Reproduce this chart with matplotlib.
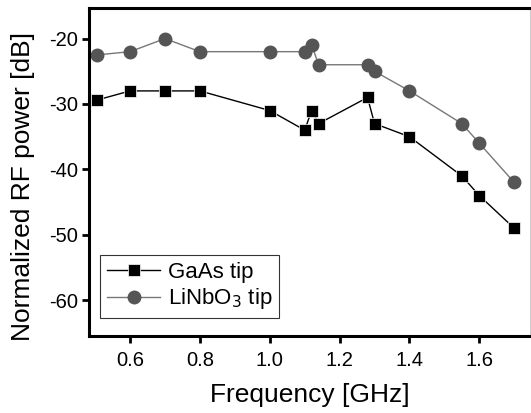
import matplotlib.pyplot as plt

plt.rcParams['font.family'] = ['Liberation Sans', 'DejaVu Sans']
plt.rcParams['axes.unicode_minus'] = False

# GaAs tip
gaas_f = [0.505, 0.6, 0.7, 0.8, 1.0, 1.1, 1.12, 1.14, 1.28, 1.3, 1.4, 1.55, 1.6, 1.7]
gaas_p = [-29.4, -28, -28, -28, -31, -34, -31, -33, -29, -33, -35, -41, -44, -49]

# LiNbO3 tip
linbo_f = [0.505, 0.6, 0.7, 0.8, 1.0, 1.1, 1.12, 1.14, 1.28, 1.3, 1.4, 1.55, 1.6, 1.7]
linbo_p = [-22.5, -22, -20, -22, -22, -22, -21, -24, -24, -25, -28, -33, -36, -42]

fig = plt.figure(figsize=(5.31, 4.13), dpi=100)
ax = fig.add_axes([0.168, 0.186, 0.83, 0.795])

ax.plot(gaas_f, gaas_p, color='black', lw=1, marker='s', ms=8,
        mfc='black', mec='white', mew=0.5, label='GaAs tip')
ax.plot(linbo_f, linbo_p, color='#777777', lw=1, marker='o', ms=9,
        mfc='#555555', mec='#555555', label='LiNbO$_3$ tip')

ax.set_xlim(0.483, 1.745)
ax.set_ylim(-65.5, -15.3)
ax.set_xticks([0.6, 0.8, 1.0, 1.2, 1.4, 1.6])
ax.set_xticklabels(['0.6', '0.8', '1.0', '1.2', '1.4', '1.6'])
ax.set_yticks([-20, -30, -40, -50, -60])

for s in ['left', 'bottom', 'top']:
    ax.spines[s].set_linewidth(2.2)
ax.spines['right'].set_linewidth(0.8)
ax.spines['right'].set_color('#cccccc')

ax.tick_params(direction='out', length=5, width=2, labelsize=14.5, color='black')
ax.tick_params(axis='x', pad=6)
ax.tick_params(axis='y', pad=3)

ax.set_xlabel('Frequency [GHz]', fontsize=19, labelpad=9)
ax.set_ylabel('Normalized RF power [dB]', fontsize=19)
ax.yaxis.set_label_coords(-0.122, 0.457)

leg = ax.legend(loc='lower left', bbox_to_anchor=(0.025, 0.055), fontsize=16,
                frameon=True, fancybox=False, edgecolor='black',
                handlelength=2.4, handletextpad=0.35, borderpad=0.3,
                labelspacing=0.15, borderaxespad=0)
leg.get_frame().set_linewidth(0.8)

plt.savefig('out.png', dpi=100)
